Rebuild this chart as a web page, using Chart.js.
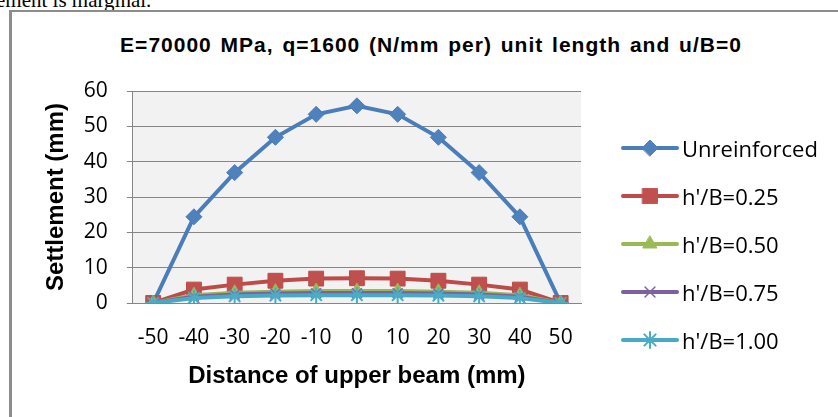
<!DOCTYPE html>
<html>
<head>
<meta charset="utf-8">
<script src="https://cdn.jsdelivr.net/npm/chart.js@4.4.1/dist/chart.umd.min.js"></script>
<style>
  html, body { margin: 0; padding: 0; background: #fff; overflow: hidden; width: 838px; height: 417px; }
  #pagetext { position: absolute; left: -4px; top: -12px; font: 21px "Liberation Serif", serif; color: #000; white-space: nowrap; }
  #box { position: absolute; left: 9px; top: 10px; width: 900px; height: 450px; border-left: 3px solid #8c8c8c; border-top: 2px solid #8c8c8c; }
  #title { position: absolute; left: 0; width: 862px; top: 33px; text-align: center; font: bold 21px/24px "Liberation Sans", Arial, sans-serif; letter-spacing: 1px; word-spacing: 2px; color: #000; white-space: nowrap; }
  #chart { position: absolute; left: 10px; top: 12px; }
  #legend { position: absolute; left: 620px; top: 124px; }
  .item { display: flex; align-items: center; height: 48px; font: 22px "Open Sans", sans-serif; color: #000; white-space: nowrap; }
  .item canvas { margin-right: 2px; }
</style>
</head>
<body>
<div id="pagetext">ement is marginal.</div>
<div id="box"></div>
<div id="title">E=70000 MPa, q=1600 (N/mm per) unit length and u/B=0</div>
<canvas id="chart" width="842" height="420"></canvas>
<div id="legend"></div>
<script>
const distances = ['-50', '-40', '-30', '-20', '-10', '0', '10', '20', '30', '40', '50'];
const unreinforced = [0, 24.4, 36.9, 46.9, 53.4, 55.8, 53.4, 46.9, 36.9, 24.4, 0];
const hB025 = [0, 3.8, 5.2, 6.3, 6.9, 7.0, 6.9, 6.3, 5.2, 3.8, 0];
const hB050 = [0, 2.2, 2.9, 3.2, 3.4, 3.4, 3.4, 3.2, 2.9, 2.2, 0];
const hB075 = [0, 1.8, 2.4, 2.7, 2.8, 2.8, 2.8, 2.7, 2.4, 1.8, 0];
const hB100 = [0, 1.4, 1.9, 2.1, 2.2, 2.2, 2.2, 2.1, 1.9, 1.4, 0];
const yTicks = [0, 10, 20, 30, 40, 50, 60];

const series = [
  { label: 'Unreinforced', data: unreinforced, line: '#4a7ebb', fill: '#4f81bd', style: 'rectRot', radius: 8, bw: 1 },
  { label: "h'/B=0.25", data: hB025, line: '#be4b48', fill: '#c0504d', style: 'rect', radius: 10.5, bw: 1 },
  { label: "h'/B=0.50", data: hB050, line: '#98b954', fill: '#9bbb59', style: 'triangle', radius: 8, bw: 1 },
  { label: "h'/B=0.75", data: hB075, line: '#7d60a0', fill: '#8064a2', style: 'crossRot', radius: 7, bw: 1.5 },
  { label: "h'/B=1.00", data: hB100, line: '#46aac5', fill: '#4bacc6', style: 'star', radius: 8, bw: 2 }
];

// legend: line with the marker in the middle, like Excel
const legendEl = document.getElementById('legend');
series.forEach(s => {
  const row = document.createElement('div');
  row.className = 'item';
  const c = document.createElement('canvas');
  c.width = 60; c.height = 24;
  const ctx = c.getContext('2d');
  ctx.strokeStyle = s.line;
  ctx.lineWidth = 4;
  ctx.lineCap = 'round';
  ctx.beginPath();
  ctx.moveTo(3, 12);
  ctx.lineTo(57, 12);
  ctx.stroke();
  ctx.fillStyle = s.fill;
  ctx.strokeStyle = s.fill;
  ctx.lineWidth = s.bw;
  Chart.helpers.drawPoint(ctx, { pointStyle: s.style, radius: s.radius, rotation: 0, borderWidth: s.bw }, 30, 12);
  row.appendChild(c);
  const span = document.createElement('span');
  span.textContent = s.label;
  row.appendChild(span);
  legendEl.appendChild(row);
});

const plotBg = {
  id: 'plotBg',
  beforeDraw(chart) {
    const { ctx, chartArea: a } = chart;
    ctx.save();
    ctx.fillStyle = '#f2f2f2';
    ctx.fillRect(a.left, a.top, a.right - a.left, a.bottom - a.top);
    ctx.restore();
  }
};

new Chart(document.getElementById('chart'), {
  type: 'line',
  data: {
    labels: distances,
    datasets: series.map((s, i) => ({
      label: s.label,
      data: s.data,
      borderColor: s.line,
      backgroundColor: s.fill,
      borderWidth: 4,
      pointStyle: s.style,
      pointRadius: s.radius,
      pointBorderWidth: s.bw,
      pointBorderColor: s.style === 'crossRot' || s.style === 'star' ? s.fill : s.line,
      pointBackgroundColor: s.fill,
      tension: 0,
      order: 5 - i
    }))
  },
  options: {
    responsive: false,
    animation: false,
    layout: { padding: { left: 32, right: 271, top: 79, bottom: 41 } },
    plugins: {
      legend: { display: false },
      tooltip: { enabled: false }
    },
    scales: {
      x: {
        offset: true,
        grid: { display: false, drawTicks: false },
        border: { display: true, color: '#868686', width: 1 },
        ticks: { color: '#000', padding: 22, maxRotation: 0, autoSkip: false, font: { family: '"Open Sans", sans-serif', size: 21 } },
        title: {
          display: true,
          text: 'Distance of upper beam (mm)',
          color: '#000',
          font: { family: '"Liberation Sans", Arial, sans-serif', size: 24, weight: 'bold' },
          padding: { top: -10, bottom: 0 }
        }
      },
      y: {
        min: yTicks[0],
        max: yTicks[yTicks.length - 1],
        afterBuildTicks: axis => { axis.ticks = yTicks.map(v => ({ value: v })); },
        grid: { color: '#868686', tickLength: 6 },
        border: { display: true, color: '#868686', width: 1 },
        ticks: { color: '#000', padding: 19, font: { family: '"Open Sans", sans-serif', size: 21 } },
        title: {
          display: true,
          text: 'Settlement (mm)',
          color: '#000',
          font: { family: '"Liberation Sans", Arial, sans-serif', size: 24, weight: 'bold' },
          padding: { top: 0, bottom: -6 }
        }
      }
    }
  },
  plugins: [plotBg]
});
</script>
</body>
</html>
